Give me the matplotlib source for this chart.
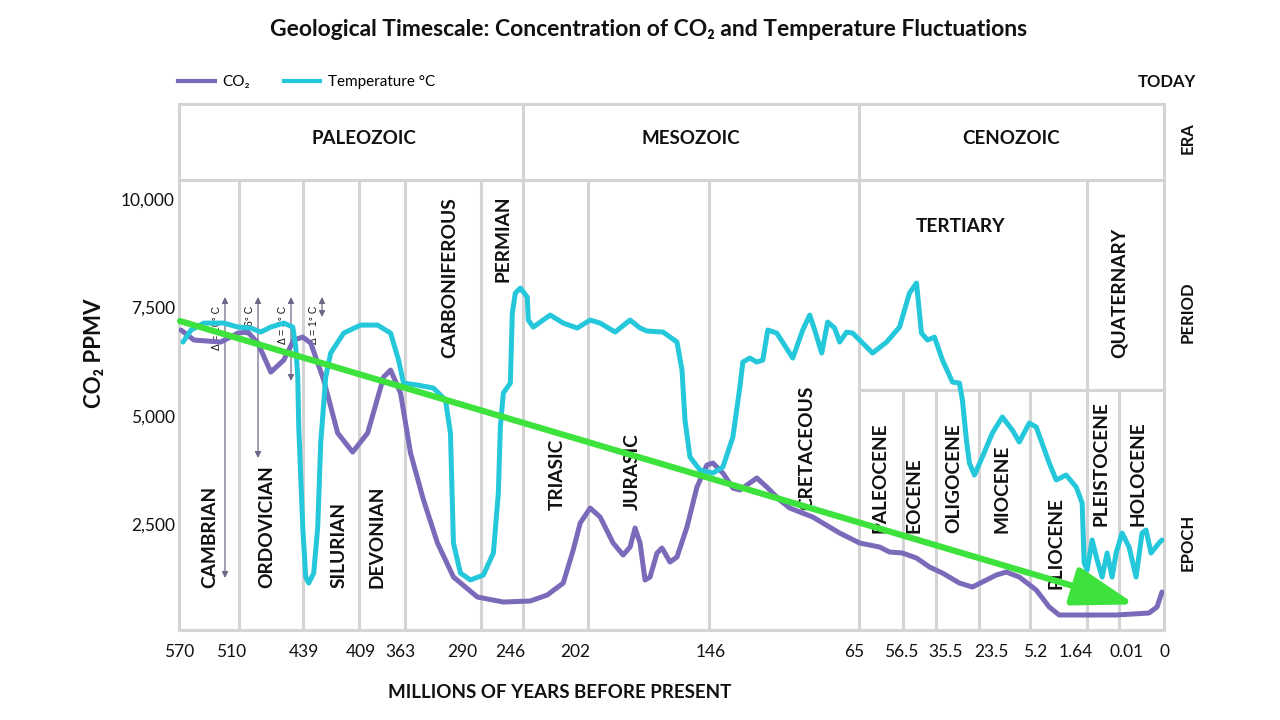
import matplotlib.pyplot as plt
from matplotlib.lines import Line2D

plt.rcParams['font.family'] = ['Lato', 'DejaVu Sans']

# x values are positions along the (not to scale) timeline, 179 = 570 Ma, 1164 = today
co2_x = [180, 193, 220, 237, 247, 257, 270, 283, 293, 302, 310, 323, 337, 352, 367,
         383, 390, 400, 410, 423, 437, 453, 477, 503, 530, 547, 563, 573, 580, 590,
         600, 613, 623, 630, 635, 640, 645, 650, 657, 662, 670, 677, 687, 697, 707,
         713, 723, 733, 740, 747, 757, 767, 780, 790, 813, 840, 860, 880, 890, 903,
         917, 930, 943, 960, 973, 983, 997, 1007, 1020, 1037, 1050, 1060, 1083, 1117,
         1150, 1158, 1163]
co2_ppmv = [6982, 6751, 6705, 6912, 6935, 6682, 6012, 6289, 6751, 6820, 6682, 5828, 4604,
            4166, 4604, 5897, 6058, 5528, 4143, 3058, 2066, 1281, 819, 704, 727, 866,
            1142, 1904, 2527, 2873, 2666, 2066, 1789, 1973, 2412, 2066, 1212, 1281, 1835,
            1950, 1627, 1743, 2435, 3358, 3866, 3912, 3681, 3335, 3289, 3404, 3566, 3358,
            3058, 2873, 2666, 2296, 2066, 1973, 1858, 1835, 1719, 1512, 1373, 1142, 1050,
            1166, 1327, 1396, 1281, 981, 589, 404, 404, 404, 450, 589, 935]

temp_x = [182, 190, 203, 223, 237, 250, 260, 270, 283, 292, 295, 297, 298, 302, 305,
          308, 313, 317, 320, 325, 330, 343, 360, 377, 390, 398, 403, 417, 433, 445,
          450, 453, 460, 470, 483, 493, 498, 500, 503, 510, 512, 515, 520, 527, 528,
          533, 550, 563, 577, 590, 600, 615, 630, 640, 647, 663, 677, 682, 685, 690,
          700, 713, 723, 733, 740, 743, 750, 757, 763, 768, 777, 793, 803, 810, 815,
          822, 828, 835, 840, 847, 853, 860, 873, 887, 900, 910, 917, 922, 928, 935,
          943, 953, 960, 963, 967, 970, 975, 983, 993, 1003, 1013, 1020, 1030, 1037,
          1050, 1057, 1067, 1077, 1083, 1085, 1088, 1093, 1098, 1103, 1108, 1113, 1117,
          1123, 1130, 1137, 1143, 1147, 1152, 1160, 1163]
# temperature drawn on the CO2 scale (relative level only)
temp_level = [6705, 6982, 7143, 7143, 7051, 7028, 6936, 7051, 7143, 7051, 6589, 5897, 4743,
              2435, 1281, 1142, 1373, 2435, 4374, 5897, 6451, 6912, 7097, 7097, 6912, 6289,
              5758, 5712, 5643, 5366, 4604, 2066, 1373, 1212, 1327, 1835, 3220, 4743, 5528,
              5758, 7374, 7836, 7951, 7743, 7212, 7051, 7328, 7143, 7028, 7212, 7143, 6936,
              7212, 7028, 6959, 6936, 6705, 6058, 4905, 4051, 3750, 3681, 3820, 4512, 5666,
              6243, 6335, 6243, 6289, 6982, 6912, 6335, 6982, 7328, 6982, 6451, 7166, 7028,
              6705, 6936, 6912, 6751, 6451, 6705, 7051, 7836, 8066, 6912, 6751, 6820, 6289,
              5782, 5758, 5366, 4443, 3912, 3635, 4051, 4604, 4974, 4674, 4397, 4835, 4743,
              3912, 3520, 3635, 3358, 2989, 1604, 1443, 2135, 1673, 1281, 1835, 1281, 1835,
              2296, 1973, 1281, 2296, 2366, 1835, 2066, 2135]

age_labels = ['570', '510', '439', '409', '363', '290', '246', '202', '146',
              '65', '56.5', '35.5', '23.5', '5.2', '1.64', '0.01', '0']
age_label_x = [178, 230, 303, 360, 400, 462, 510, 575, 711,
               855, 902, 946, 992, 1036, 1077, 1127, 1165]

ppmv_ticks = [2500, 5000, 7500, 10000]
ppmv_tick_labels = ['2,500', '5,000', '7,500', '10,000']

eras = ['PALEOZOIC', 'MESOZOIC', 'CENOZOIC']
era_x = [364, 691, 1011]
era_bounds = [523, 859]

periods = ['CAMBRIAN', 'ORDOVICIAN', 'SILURIAN', 'DEVONIAN', 'CARBONIFEROUS', 'PERMIAN',
           'TRIASIC', 'JURASIC', 'CRETACEOUS', 'QUATERNARY']
period_x = [210, 267, 339, 377, 450, 503, 557, 632, 807, 1119]
period_y = [588, 588, 588, 588, 358, 282, 510, 510, 510, 358]
period_bounds = [239, 303, 359, 405, 481, 588, 709, 1087]

epochs = ['PALEOCENE', 'EOCENE', 'OLIGOCENE', 'MIOCENE', 'PLIOCENE', 'PLEISTOCENE', 'HOLOCENE']
epoch_x = [880, 914, 954, 1002, 1056, 1101, 1138]
epoch_y = [533, 533, 533, 533, 589, 526, 526]
epoch_bounds = [903, 936, 979, 1030, 1119]

deltas = ['Δ = 10° C', 'Δ = 6° C', 'Δ = 3° C', 'Δ = 1° C']
delta_x = [225, 258, 291, 322]
delta_bottom = [578, 458, 381, 317]

PURPLE = '#7b69b9'
TEAL = '#24c8da'
GREEN = '#3ee23c'
GRID = '#d4d4d4'
TXT = '#111111'

fig = plt.figure(figsize=(12.8, 7.2), dpi=100)

# background layer in pixel coordinates for the table and labels
bg = fig.add_axes([0, 0, 1, 1], zorder=0)
bg.set_xlim(0, 1280)
bg.set_ylim(720, 0)
bg.axis('off')

L, R, T, B = 179, 1164, 104, 630
glw = 2.2
for yy in [T, 180, B]:
    bg.plot([L, R], [yy, yy], color=GRID, lw=glw, solid_capstyle='butt')
bg.plot([859, R], [390, 390], color=GRID, lw=glw)
for xx in [L, R] + era_bounds:
    bg.plot([xx, xx], [T, B], color=GRID, lw=glw)
for xx in period_bounds:
    bg.plot([xx, xx], [180, B], color=GRID, lw=glw)
for xx in epoch_bounds:
    bg.plot([xx, xx], [390, B], color=GRID, lw=glw)

bg.text(649, 29, 'Geological Timescale: Concentration of CO₂ and Temperature Fluctuations',
        ha='center', va='center', fontsize=16.5, fontweight='bold', color=TXT)

lab_size = 13.8
for name, xx in zip(eras, era_x):
    bg.text(xx, 138, name, ha='center', va='center', fontsize=13.5, fontweight='bold', color=TXT)
for name, xx, yy in zip(periods, period_x, period_y):
    bg.text(xx, yy, name, rotation=90, ha='center', va='bottom', fontsize=lab_size,
            fontweight='bold', color=TXT)
bg.text(960, 226, 'TERTIARY', ha='center', va='center', fontsize=lab_size,
        fontweight='bold', color=TXT)
for name, xx, yy in zip(epochs, epoch_x, epoch_y):
    bg.text(xx, yy, name, rotation=90, ha='center', va='bottom', fontsize=lab_size,
            fontweight='bold', color=TXT)

bg.text(1167, 82, 'TODAY', ha='center', va='center', fontsize=12, fontweight='bold', color=TXT)
for name, yy in zip(['ERA', 'PERIOD', 'EPOCH'], [138, 312, 542]):
    bg.text(1188, yy, name, rotation=90, ha='center', va='center', fontsize=12,
            fontweight='bold', color=TXT)

bg.text(95, 353, 'CO₂ PPMV', rotation=90, ha='center', va='center', fontsize=16,
        fontweight='bold', color=TXT)
bg.text(560, 693, 'MILLIONS OF YEARS BEFORE PRESENT', ha='center', va='center',
        fontsize=13.5, fontweight='bold', color=TXT)

# temperature range arrows
for lab, xx, yb in zip(deltas, delta_x, delta_bottom):
    bg.annotate('', xy=(xx, 297), xytext=(xx, yb),
                arrowprops=dict(arrowstyle='<|-|>', color='#6d6888', lw=0.9,
                                mutation_scale=9, shrinkA=0, shrinkB=0))
    bg.text(xx - 8, 306, lab, rotation=90, ha='center', va='top', fontsize=7.5,
            family=['Liberation Sans', 'DejaVu Sans'], color=TXT)

# data layer
ax = fig.add_axes([L / 1280, (720 - B) / 720, (R - L) / 1280, (B - T) / 720], zorder=1)
ax.patch.set_alpha(0)
ax.set_xlim(L, R)
ax.set_ylim(58, 12200)
for s in ax.spines.values():
    s.set_visible(False)

ax.plot(co2_x, co2_ppmv, color=PURPLE, lw=3.6, solid_joinstyle='round',
        solid_capstyle='round', zorder=3)
ax.plot(temp_x, temp_level, color=TEAL, lw=3.6, solid_joinstyle='round',
        solid_capstyle='round', zorder=4)

ax.annotate('', xy=(1136, 650), xytext=(179, 7190),
            arrowprops=dict(arrowstyle='-|>,head_length=1.9,head_width=0.6', color=GREEN,
                            lw=4.5, mutation_scale=20, shrinkA=0, shrinkB=0), zorder=5)

ax.set_yticks(ppmv_ticks, ppmv_tick_labels)
ax.set_xticks(age_label_x, age_labels)
ax.tick_params(axis='both', length=0, labelsize=12.5, colors=TXT)
ax.tick_params(axis='y', pad=3)
ax.tick_params(axis='x', pad=10)

handles = [Line2D([], [], color=PURPLE, lw=3), Line2D([], [], color=TEAL, lw=3)]
fig.legend(handles, ['CO₂', 'Temperature °C'], loc='center left',
           bbox_to_anchor=(178 / 1280, 1 - 82 / 720), ncol=2, frameon=False,
           fontsize=11, handlelength=2.4, handletextpad=0.5, columnspacing=2.2,
           borderpad=0, borderaxespad=0)

fig.savefig('out.png', dpi=100)
